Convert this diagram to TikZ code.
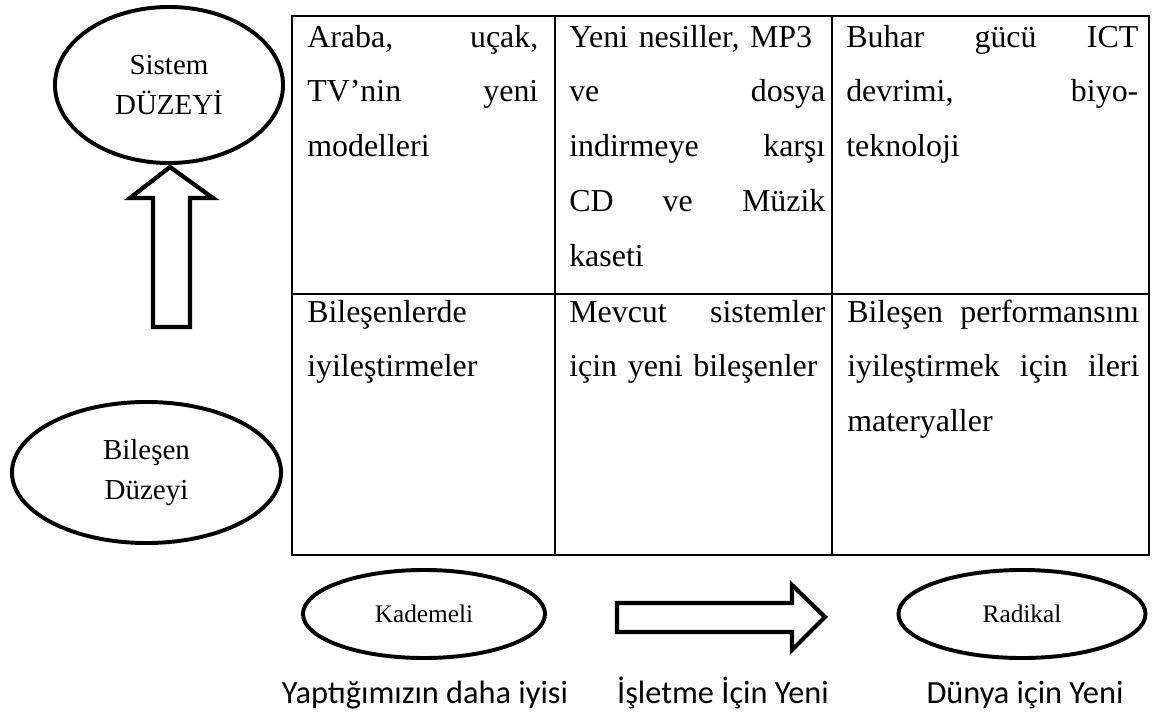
\documentclass[tikz,border=0pt]{standalone}
\usepackage{fontspec}
\setmainfont{Liberation Serif}
\newfontfamily\labelfont{Carlito}
\usetikzlibrary{shapes.geometric}

% one justified line of a cell
\newcommand{\jline}[1]{\makebox[\hsize][s]{\spaceskip=0pt\relax#1}}

\begin{document}
\begin{tikzpicture}[x=0.025cm, y=-0.025cm,
  level/.style={ellipse, draw, line width=2.8pt, inner sep=0pt, align=center,
    font=\fontsize{20.6}{28}\selectfont},
  kind/.style={ellipse, draw, line width=2.8pt, inner sep=0pt,
    font=\fontsize{18}{22}\selectfont},
  cell/.style={anchor=base west, inner sep=0pt, align=left,
    font=\fontsize{22.7}{39}\selectfont},
  caption/.style={anchor=base, inner sep=0pt, font=\labelfont\fontsize{23}{28}\selectfont},
  blockarrow/.style={line width=3pt, line join=miter, fill=white}]
\useasboundingbox (0,0) rectangle (1152,711);

% table
\draw[line width=1.6pt] (292,16) rectangle (1149,555);
\draw[line width=1.6pt] (292,294)--(1149,294);
\draw[line width=1.6pt] (555,16)--(555,555);
\draw[line width=1.6pt] (832,16)--(832,555);

\node[cell, text width=5.775cm] (c11) at (307,47)
  {\jline{Araba, uçak,}\\ \jline{TV’nin yeni}\\ modelleri};
\node[cell, text width=6.4cm] (c12) at (569,47)
  {Yeni nesiller, MP3\\ \jline{ve dosya}\\ \jline{indirmeye karşı}\\ \jline{CD ve Müzik}\\ kaseti};
\node[cell, text width=7.3cm] (c13) at (846,47)
  {\jline{Buhar gücü ICT}\\ \jline{devrimi, biyo-}\\ teknoloji};
\node[cell, text width=5.775cm] (c21) at (307,322)
  {Bileşenlerde\\ iyileştirmeler};
\node[cell, text width=6.4cm] (c22) at (569,322)
  {\jline{Mevcut sistemler}\\ için yeni bileşenler};
\node[cell, text width=7.3cm] (c23) at (847,322)
  {\jline{Bileşen performansını}\\ \jline{iyileştirmek için ileri}\\ materyaller};

% levels on the left
\node[level, minimum width=5.7cm, minimum height=3.9cm] (sis) at (169,85) {Sistem\\DÜZEYİ};
\node[level, minimum width=6.725cm, minimum height=3.525cm] (bil) at (146.5,472.5) {Bileşen\\Düzeyi};
\draw[blockarrow] (170,167) -- (213,198) -- (190,198) -- (190,327) -- (153,327)
  -- (153,198) -- (130,198) -- cycle;

% kinds below
\node[kind, minimum width=6.05cm, minimum height=2.2cm] (kad) at (424,614) {Kademeli};
\node[kind, minimum width=6.175cm, minimum height=2.2cm] (rad) at (1022,614) {Radikal};
\draw[blockarrow] (617,603) -- (792,603) -- (792,585) -- (825,617) -- (792,650)
  -- (792,632) -- (617,632) -- cycle;

\node[caption] (yap) at (425,703) {Yaptığımızın daha iyisi};
\node[caption] (isl) at (723,703) {İşletme İçin Yeni};
\node[caption] (dun) at (1025,703) {Dünya için Yeni};
\end{tikzpicture}
\end{document}
